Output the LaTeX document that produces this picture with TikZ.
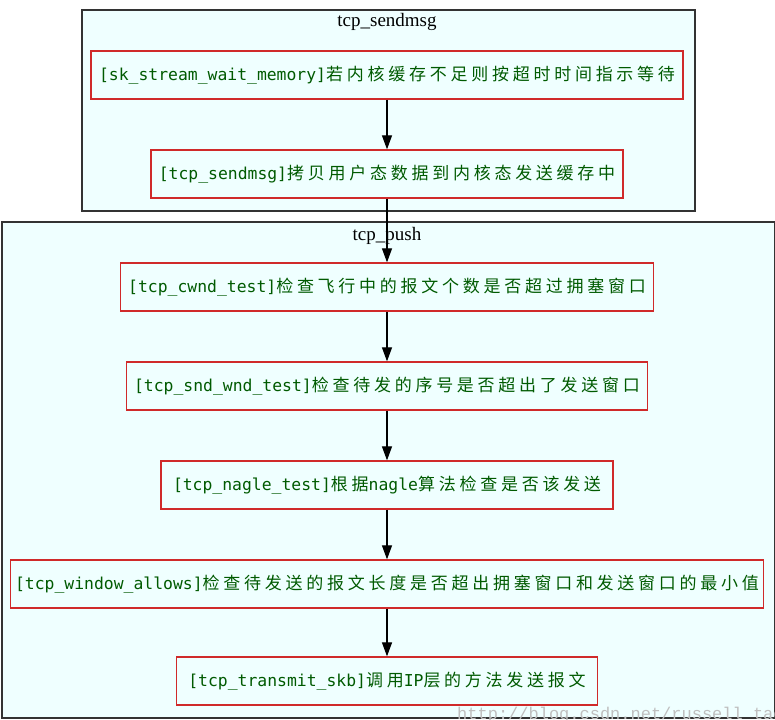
\documentclass[tikz,border=0pt]{standalone}
\usepackage{fontspec}
\setmainfont{Liberation Serif}
\newfontfamily\monof{DejaVu Sans Mono}
\newfontfamily\cjkf[LetterSpace=22]{Noto Sans CJK SC}
\newfontfamily\wmf{Liberation Mono}
\usetikzlibrary{arrows.meta}
\definecolor{clfill}{HTML}{EFFFFF}
\definecolor{clborder}{HTML}{333333}
\definecolor{nodered}{HTML}{D02A2A}
\definecolor{txtgreen}{HTML}{005A00}
\newcommand{\steplabel}[2]{{\monof\fontsize{16.4}{18}\selectfont #1}{\cjkf\fontsize{17}{18}\selectfont #2}}
\begin{document}
\begin{tikzpicture}[x=1pt,y=-1pt,
  cluster/.style={draw=clborder, line width=1.9pt, fill=clfill, inner sep=0pt, anchor=north west},
  ctitle/.style={font=\fontsize{19}{20}\selectfont, text=black, inner sep=0pt},
  stepbox/.style={draw=nodered, line width=1.3pt, minimum height=48pt, inner sep=0pt, text=txtgreen},
  flow/.style={draw=black, line width=1.2pt, -{Triangle[length=14pt,width=10pt]}},
  wmark/.style={text=gray!50, font=\wmf\fontsize{17}{18}\selectfont, inner sep=0pt, anchor=base west}]
\useasboundingbox (0,0) rectangle (775,719);
\fill[white] (0,0) rectangle (775,719);
% clusters
\node[cluster, minimum width=613pt, minimum height=201pt] (c1) at (81,9) {};
\node[ctitle] (t1) at (387,22) {tcp\_sendmsg};
\node[cluster, minimum width=773pt, minimum height=496pt] (c2) at (1,221) {};
\node[ctitle] (t2) at (387,236) {tcp\_push};
% steps
\node[stepbox, minimum width=592pt] (n1) at (387,75)
  {\steplabel{[sk\_stream\_wait\_memory]}{若内核缓存不足则按超时时间指示等待}};
\node[stepbox, minimum width=472pt] (n2) at (387,174)
  {\steplabel{[tcp\_sendmsg]}{拷贝用户态数据到内核态发送缓存中}};
\node[stepbox, minimum width=533pt] (n3) at (387,287)
  {\steplabel{[tcp\_cwnd\_test]}{检查飞行中的报文个数是否超过拥塞窗口}};
\node[stepbox, minimum width=521pt] (n4) at (387,386)
  {\steplabel{[tcp\_snd\_wnd\_test]}{检查待发的序号是否超出了发送窗口}};
\node[stepbox, minimum width=452pt] (n5) at (387,485)
  {\steplabel{[tcp\_nagle\_test]}{根据}\steplabel{nagle}{算法检查是否该发送}};
\node[stepbox, minimum width=753pt] (n6) at (387,584)
  {\steplabel{[tcp\_window\_allows]}{检查待发送的报文长度是否超出拥塞窗口和发送窗口的最小值}};
\node[stepbox, minimum width=421pt] (n7) at (387,681)
  {\steplabel{[tcp\_transmit\_skb]}{调用}\steplabel{IP}{层的方法发送报文}};
% connectors
\draw[flow] (n1.south) -- (n2.north);
\draw[flow] (n2.south) -- (n3.north);
\draw[flow] (n3.south) -- (n4.north);
\draw[flow] (n4.south) -- (n5.north);
\draw[flow] (n5.south) -- (n6.north);
\draw[flow] (n6.south) -- (n7.north);
% watermark
\node[wmark] (wm) at (457,719) {http://blog.csdn.net/russell\_tao};
\end{tikzpicture}
\end{document}
